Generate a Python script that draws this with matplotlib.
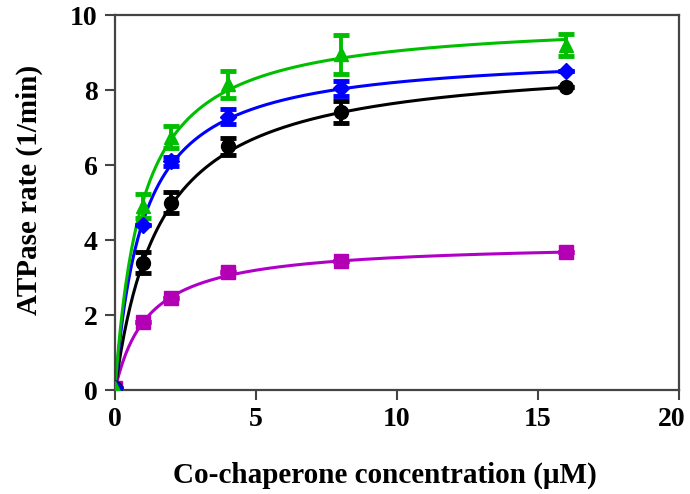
import numpy as np
import matplotlib
matplotlib.use("Agg")
import matplotlib.pyplot as plt
from matplotlib.transforms import ScaledTranslation

# Data
conc = [0, 1, 2, 4, 8, 16]

green_y = [0.05, 4.9, 6.75, 8.15, 8.95, 9.2]
green_err = [0.0, 0.32, 0.3, 0.36, 0.52, 0.3]
blue_y = [0.05, 4.4, 6.1, 7.29, 8.05, 8.5]
blue_err = [0.0, 0.0, 0.12, 0.2, 0.2, 0.0]
black_y = [0.05, 3.4, 5.0, 6.5, 7.41, 8.07]
black_err = [0.0, 0.29, 0.28, 0.22, 0.3, 0.0]
magenta_y = [0.05, 1.81, 2.46, 3.15, 3.43, 3.68]
magenta_err = [0.0, 0.0, 0.0, 0.0, 0.0, 0.0]

# Michaelis-Menten fit parameters (Vmax, Km)
green_fit = (9.91, 0.96)
blue_fit = (9.03, 1.0)
black_fit = (8.88, 1.6)
magenta_fit = (3.95, 1.18)

xticks = [0, 5, 10, 15, 20]
yticks = [0, 2, 4, 6, 8, 10]

plt.rcParams['font.family'] = ['Liberation Serif', 'DejaVu Serif']
plt.rcParams['font.weight'] = 'bold'

fig = plt.figure(figsize=(6.9, 4.94), dpi=100)
ax = fig.add_axes([0.1667, 0.2105, 0.8174, 0.7591])

xs = np.linspace(0, 16, 300)

series = [
    (magenta_y, magenta_err, magenta_fit, '#B000C8', '#B400B4', 's', 9.5),
    (black_y, black_err, black_fit, '#000000', '#000000', 'o', 10),
    (blue_y, blue_err, blue_fit, '#0000FF', '#0000FF', 'D', 8),
    (green_y, green_err, green_fit, '#00BE00', '#00BE00', '^', 10),
]

for yv, ev, (vmax, km), lc, mc, mk, ms in series:
    ax.plot(xs, vmax * xs / (km + xs), color=lc, lw=2.2, zorder=2)
    ax.errorbar(conc, yv, yerr=ev, fmt=mk, color=mc, ms=ms, mec=mc,
                ecolor=mc, elinewidth=2.8, capsize=6, capthick=3.5, zorder=3)

ax.set_xlim(0, 20)
ax.set_ylim(0, 10)
ax.set_xticks(xticks)
ax.set_yticks(yticks)
ax.tick_params(direction='out', length=7.5, width=1.5, labelsize=20, pad=5,
               colors='#444444', labelcolor='black')
for lab in ax.get_xticklabels() + ax.get_yticklabels():
    lab.set_fontweight('bold')
# nudge the last x tick label inward so it stays inside the figure
last = ax.get_xticklabels()[-1]
last.set_transform(last.get_transform() + ScaledTranslation(-7 / 100, 0, fig.dpi_scale_trans))
for s in ax.spines.values():
    s.set_linewidth(1.6)
    s.set_color('#444444')

ax.set_xlabel('Co-chaperone concentration (\u03bcM)', fontsize=21, fontweight='bold', labelpad=22)
ax.set_ylabel('ATPase rate (1/min)', fontsize=21, fontweight='bold')
ax.xaxis.set_label_coords(0.479, -0.19)
ax.xaxis.label.set_va('top')
ax.yaxis.set_label_coords(-0.128, 0.533)

fig.savefig('out.png', dpi=100)
